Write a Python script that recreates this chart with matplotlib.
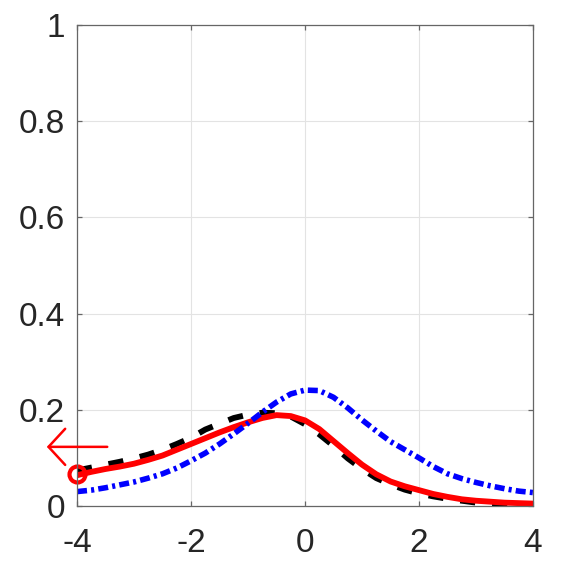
import numpy as np
import matplotlib
matplotlib.use("Agg")
import matplotlib.pyplot as plt

# curve samples (step 0.25)
x = np.array([-4, -3.75, -3.5, -3.25, -3, -2.75, -2.5, -2.25, -2, -1.75, -1.5,
              -1.25, -1, -0.75, -0.5, -0.25, 0, 0.25, 0.5, 0.75, 1, 1.25, 1.5,
              1.75, 2, 2.25, 2.5, 2.75, 3, 3.25, 3.5, 3.75, 4])
y_red = np.array([0.064, 0.071, 0.077, 0.082, 0.088, 0.096, 0.105, 0.117, 0.129,
                  0.141, 0.153, 0.164, 0.174, 0.183, 0.189, 0.187, 0.178, 0.160,
                  0.135, 0.110, 0.086, 0.066, 0.051, 0.041, 0.033, 0.025, 0.019,
                  0.014, 0.011, 0.009, 0.007, 0.006, 0.005])
y_black = np.array([0.074, 0.080, 0.086, 0.092, 0.099, 0.107, 0.117, 0.129, 0.142,
                    0.159, 0.171, 0.183, 0.190, 0.194, 0.193, 0.186, 0.170, 0.149,
                    0.125, 0.099, 0.077, 0.058, 0.045, 0.034, 0.026, 0.020, 0.015,
                    0.011, 0.007, 0.005, 0.003, 0.002, 0.001])
y_blue = np.array([0.030, 0.033, 0.038, 0.044, 0.050, 0.058, 0.067, 0.079, 0.094,
                   0.110, 0.129, 0.150, 0.172, 0.195, 0.216, 0.233, 0.241, 0.240,
                   0.226, 0.204, 0.179, 0.156, 0.134, 0.117, 0.100, 0.082, 0.067,
                   0.057, 0.049, 0.042, 0.036, 0.031, 0.028])

start_pt = (-4, 0.066)
arrow_tail = (-3.47, 0.123)
arrow_tip = (-4.53, 0.123)

xticks = [-4, -2, 0, 2, 4]
yticks = [0, 0.2, 0.4, 0.6, 0.8, 1]
yticklabels = ["0", "0.2", "0.4", "0.6", "0.8", "1"]

plt.rcParams['font.family'] = ['Liberation Sans', 'DejaVu Sans']

fig = plt.figure(figsize=(5.71, 5.71), dpi=100)
ax = fig.add_axes([0.1349, 0.1138, 0.7986, 0.8424])

ax.plot(x, y_black, color='black', lw=4.2, dashes=(2.6, 2.9))
ax.plot(x, y_red, color='red', lw=4.2, solid_capstyle='butt')
ax.plot(x, y_blue, color='blue', lw=4.0, dashes=(1.8, 0.75, 0.55, 0.75))
ax.plot(*start_pt, 'o', ms=11.5, mfc='none', mec='red', mew=3, clip_on=False)
ax.annotate('', xy=arrow_tip, xytext=arrow_tail, annotation_clip=False,
            arrowprops=dict(arrowstyle='->,head_length=1.2,head_width=1.3',
                            color='red', lw=1.8, shrinkA=0, shrinkB=0))

ax.set_xlim(-4, 4)
ax.set_ylim(0, 1)
ax.set_xticks(xticks)
ax.set_xticklabels([str(t) for t in xticks])
ax.set_yticks(yticks)
ax.set_yticklabels(yticklabels)
ax.grid(True, color='#e3e3e3', lw=0.8)
ax.set_axisbelow(True)
for s in ax.spines.values():
    s.set_color('#666666')
    s.set_linewidth(0.9)
ax.tick_params(direction='in', length=3.6, width=0.9, color='#666666',
               labelsize=24, labelcolor='#262626', top=True, right=True)
ax.tick_params(axis='x', pad=16)
ax.tick_params(axis='y', pad=8.5)

fig.savefig('out.png', dpi=100)
